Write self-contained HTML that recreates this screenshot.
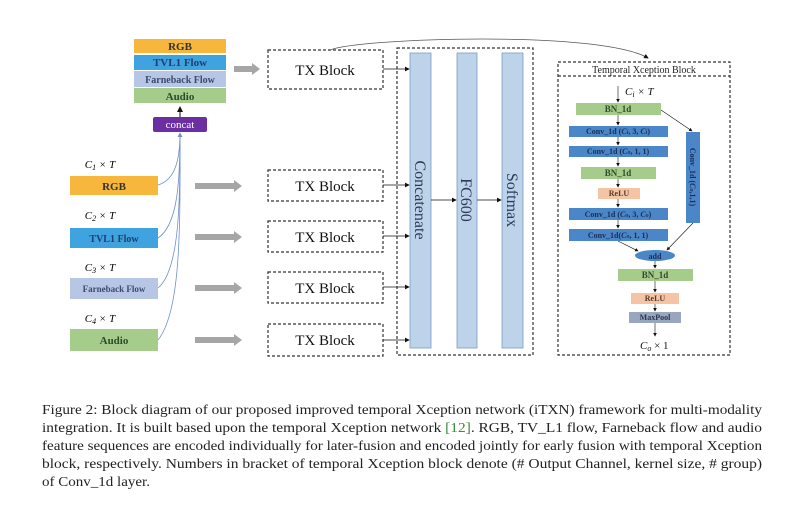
<!DOCTYPE html>
<html><head><meta charset="utf-8"><style>
html,body{margin:0;padding:0;background:#fff;}
svg{display:block;}
</style></head><body>
<svg width="800" height="517" viewBox="0 0 800 517" xmlns="http://www.w3.org/2000/svg" font-family="'Liberation Serif', serif">
<defs>
<marker id="ah" markerWidth="6" markerHeight="6" refX="5" refY="3" orient="auto"><path d="M0,0 L6,3 L0,6 z" fill="#111"/></marker>
<marker id="ab" markerWidth="6" markerHeight="6" refX="5" refY="3" orient="auto"><path d="M0,0 L6,3 L0,6 z" fill="#6f8fd0"/></marker>
</defs>

<!-- top stack -->
<g font-weight="bold" font-size="11" text-anchor="middle">
<rect x="134" y="39" width="92" height="14" fill="#f6b73c"/><text x="180" y="50" fill="#333">RGB</text>
<rect x="134" y="55" width="92" height="15" fill="#3ea3de"/><text x="180" y="66" fill="#1f3f70">TVL1 Flow</text>
<rect x="134" y="71" width="92" height="16" fill="#b7c6e4"/><text x="180" y="83" fill="#3a4a70" font-size="10">Farneback Flow</text>
<rect x="134" y="88" width="92" height="15" fill="#a6cc8c"/><text x="180" y="100" fill="#2f4a2a">Audio</text>
</g>
<rect x="153" y="117" width="54" height="15" rx="2" fill="#6b2fa3"/>
<text x="180" y="128" font-size="11" fill="#fff" text-anchor="middle">concat</text>
<line x1="180" y1="117" x2="180" y2="107" stroke="#111" stroke-width="1" marker-end="url(#ah)"/>

<!-- left inputs -->
<g font-size="11" text-anchor="middle" font-style="italic">
<text x="100" y="168">C<tspan font-size="8" dy="2">1</tspan><tspan dy="-2"> × T</tspan></text>
<text x="100" y="219">C<tspan font-size="8" dy="2">2</tspan><tspan dy="-2"> × T</tspan></text>
<text x="100" y="271">C<tspan font-size="8" dy="2">3</tspan><tspan dy="-2"> × T</tspan></text>
<text x="100" y="322">C<tspan font-size="8" dy="2">4</tspan><tspan dy="-2"> × T</tspan></text>
</g>
<g font-weight="bold" text-anchor="middle">
<rect x="70" y="176" width="88" height="19" fill="#f6b73c"/><text x="114" y="190" font-size="11" fill="#333">RGB</text>
<rect x="70" y="228" width="88" height="20" fill="#3ea3de"/><text x="114" y="242" font-size="10" fill="#1f3f70">TVL1 Flow</text>
<rect x="70" y="278" width="88" height="21" fill="#b7c6e4"/><text x="114" y="292" font-size="9" fill="#3a4a70">Farneback Flow</text>
<rect x="70" y="329" width="88" height="22" fill="#a6cc8c"/><text x="114" y="344" font-size="11" fill="#2f4a2a">Audio</text>
</g>
<g fill="none" stroke="#6f8fd0" stroke-width="0.8">
<path d="M158,185 C175,180 180,160 180,133"/>
<path d="M158,238 C178,225 180,180 180,133"/>
<path d="M158,288 C180,270 180,200 180,133"/>
<path d="M158,340 C182,310 180,220 180,133" marker-end="url(#ab)"/>
</g>

<!-- gray arrows -->
<g fill="#a6a6a6">
<polygon points="234,66 252,66 252,63 260,69 252,75 252,72 234,72"/>
<polygon points="195,183 234,183 234,180 242,186 234,192 234,189 195,189"/>
<polygon points="195,234 234,234 234,231 242,237 234,243 234,240 195,240"/>
<polygon points="195,285 234,285 234,282 242,288 234,294 234,291 195,291"/>
<polygon points="195,337 234,337 234,334 242,340 234,346 234,343 195,343"/>
</g>

<!-- TX blocks -->
<g fill="#fff" stroke="#333" stroke-width="1.2" stroke-dasharray="3,2">
<rect x="268" y="50" width="115" height="39"/>
<rect x="268" y="170" width="115" height="31"/>
<rect x="268" y="221" width="115" height="31"/>
<rect x="268" y="272" width="115" height="31"/>
<rect x="268" y="324" width="115" height="32"/>
</g>
<g font-size="15" text-anchor="middle" fill="#111">
<text x="325" y="75">TX Block</text>
<text x="325" y="191">TX Block</text>
<text x="325" y="242">TX Block</text>
<text x="325" y="293">TX Block</text>
<text x="325" y="345">TX Block</text>
</g>
<g stroke="#111" stroke-width="0.8" marker-end="url(#ah)">
<line x1="383" y1="69" x2="409" y2="69"/>
<line x1="383" y1="185" x2="409" y2="185"/>
<line x1="383" y1="236" x2="409" y2="236"/>
<line x1="383" y1="287" x2="409" y2="287"/>
<line x1="383" y1="340" x2="409" y2="340"/>
</g>
<path d="M330,50 C360,38 600,30 648,58" fill="none" stroke="#555" stroke-width="0.8" marker-end="url(#ah)"/>

<!-- fusion box -->
<rect x="397" y="48" width="136" height="307" fill="none" stroke="#333" stroke-width="1.2" stroke-dasharray="3,2"/>
<g fill="#bcd3ea" stroke="#7a9cc2" stroke-width="0.8">
<rect x="410" y="53" width="21" height="295"/>
<rect x="457" y="53" width="20" height="295"/>
<rect x="502" y="53" width="21" height="295"/>
</g>
<g font-size="16" fill="#2a3a5a" text-anchor="middle">
<text transform="translate(415,200) rotate(90)">Concatenate</text>
<text transform="translate(461,200) rotate(90)">FC600</text>
<text transform="translate(507,200) rotate(90)">Softmax</text>
</g>
<g stroke="#111" stroke-width="0.8" marker-end="url(#ah)">
<line x1="431" y1="200" x2="456" y2="200"/>
<line x1="477" y1="200" x2="501" y2="200"/>
</g>

<!-- TXN box -->
<rect x="558" y="62" width="172" height="293" fill="none" stroke="#333" stroke-width="1.2" stroke-dasharray="3,2"/>
<line x1="558" y1="76" x2="730" y2="76" stroke="#333" stroke-width="1.2" stroke-dasharray="3,2"/>
<text x="644" y="73" font-size="10" text-anchor="middle" fill="#222">Temporal Xception  Block</text>
<text x="625" y="95" font-size="11" font-style="italic" fill="#111">C<tspan font-size="8" dy="2">i</tspan><tspan dy="-2"> × T</tspan></text>
<g stroke="#111" stroke-width="0.6" marker-end="url(#ah)">
<line x1="618" y1="86" x2="618" y2="102"/>
<line x1="618" y1="115" x2="618" y2="125"/>
<line x1="618" y1="137" x2="618" y2="145"/>
<line x1="618" y1="157" x2="618" y2="166"/>
<line x1="618" y1="179" x2="618" y2="187"/>
<line x1="618" y1="199" x2="618" y2="207"/>
<line x1="618" y1="220" x2="618" y2="228"/>
<line x1="618" y1="241" x2="638" y2="251"/>
<line x1="661" y1="110" x2="692" y2="131"/>
<line x1="693" y1="223" x2="667" y2="250"/>
<line x1="655" y1="261" x2="655" y2="268"/>
<line x1="655" y1="281" x2="655" y2="292"/>
<line x1="655" y1="304" x2="655" y2="311"/>
<line x1="655" y1="323" x2="655" y2="336"/>
</g>
<g font-size="9" font-weight="bold" text-anchor="middle">
<rect x="576" y="103" width="85" height="12" fill="#a6cc8c"/><text x="618" y="112" fill="#2f4a2a">BN_1d</text>
<rect x="569" y="126" width="99" height="11" fill="#4a86c8"/><text x="618" y="134" fill="#1a2f55" font-size="8">Conv_1d (<tspan font-style="italic">C<tspan font-size="6">i</tspan></tspan>, 3, <tspan font-style="italic">C<tspan font-size="6">i</tspan></tspan>)</text>
<rect x="569" y="146" width="99" height="11" fill="#4a86c8"/><text x="618" y="154" fill="#1a2f55" font-size="8">Conv_1d (<tspan font-style="italic">C<tspan font-size="6">o</tspan></tspan>, 1, 1)</text>
<rect x="581" y="167" width="75" height="12" fill="#a6cc8c"/><text x="618" y="176" fill="#2f4a2a">BN_1d</text>
<rect x="598" y="188" width="42" height="11" fill="#f5c4a4"/><text x="619" y="196" fill="#5a3a2a" font-size="8">ReLU</text>
<rect x="569" y="208" width="99" height="12" fill="#4a86c8"/><text x="618" y="217" fill="#1a2f55" font-size="8">Conv_1d (<tspan font-style="italic">C<tspan font-size="6">o</tspan></tspan>, 3, <tspan font-style="italic">C<tspan font-size="6">o</tspan></tspan>)</text>
<rect x="569" y="229" width="99" height="12" fill="#4a86c8"/><text x="618" y="238" fill="#1a2f55" font-size="8">Conv_1d(<tspan font-style="italic">C<tspan font-size="6">o</tspan></tspan>, 1, 1)</text>
<rect x="686" y="132" width="14" height="91" fill="#4a86c8"/><text transform="translate(690,177) rotate(90)" fill="#1a2f55" font-size="8">Conv_1d (<tspan font-style="italic">C<tspan font-size="6">o</tspan></tspan>,1,1)</text>
<ellipse cx="655" cy="255.5" rx="20" ry="5.5" fill="#4a86c8"/><text x="655" y="259" fill="#1a2f55" font-size="8">add</text>
<rect x="618" y="269" width="75" height="12" fill="#a6cc8c"/><text x="655" y="278" fill="#2f4a2a">BN_1d</text>
<rect x="631" y="293" width="48" height="11" fill="#f5c4a4"/><text x="655" y="301" fill="#5a3a2a" font-size="8">ReLU</text>
<rect x="629" y="312" width="52" height="11" fill="#98a6c0"/><text x="655" y="320" fill="#2a3550" font-size="8">MaxPool</text>
</g>
<text x="640" y="349" font-size="11" font-style="italic" fill="#111">C<tspan font-size="8" dy="2">o</tspan><tspan dy="-2" font-style="normal"> × 1</tspan></text>

<!-- caption -->
<g font-size="13.5" fill="#222">
<text x="42" y="414" textLength="720" lengthAdjust="spacingAndGlyphs">Figure 2: Block diagram of our proposed improved temporal Xception network (iTXN) framework for multi-modality</text>
<text x="42" y="432" textLength="720" lengthAdjust="spacingAndGlyphs">integration. It is built based upon the temporal Xception network <tspan fill="#3a8a3a">[12]</tspan>. RGB, TV_L1 flow, Farneback flow and audio</text>
<text x="42" y="450" textLength="720" lengthAdjust="spacingAndGlyphs">feature sequences are encoded individually for later-fusion and encoded jointly for early fusion with temporal Xception</text>
<text x="42" y="468" textLength="720" lengthAdjust="spacingAndGlyphs">block, respectively. Numbers in bracket of temporal Xception block denote (# Output Channel, kernel size, # group)</text>
<text x="42" y="486" textLength="108" lengthAdjust="spacingAndGlyphs">of Conv_1d layer.</text>
</g>
</svg>
</body></html>
